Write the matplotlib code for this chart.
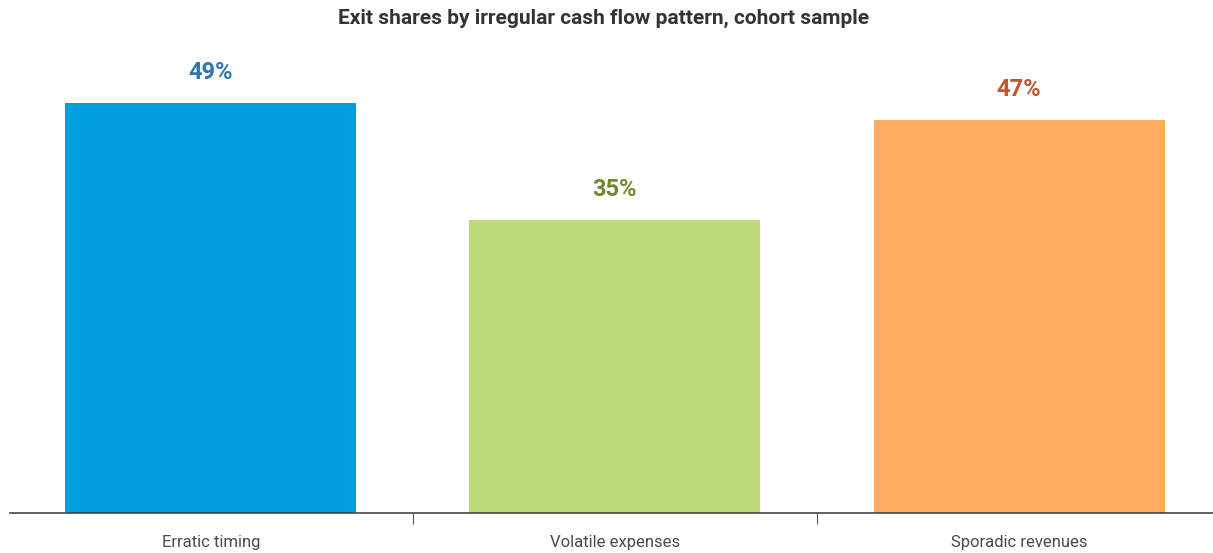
import matplotlib
matplotlib.use('Agg')
import matplotlib.pyplot as plt
from matplotlib.ticker import FixedLocator

# chart data
categories = ['Erratic timing', 'Volatile expenses', 'Sporadic revenues']
shares = [49, 35, 47]
labels = ['49%', '35%', '47%']
bar_colors = ['#009FE0', '#BDDA7A', '#FFAD5F']
text_colors = ['#2C77B3', '#6E8A2B', '#C1552B']

plt.rcParams['font.family'] = ['Roboto', 'DejaVu Sans']

fig = plt.figure(figsize=(12.13, 5.53), dpi=100)
ax = fig.add_axes([10 / 1213, 40 / 553, 1203 / 1213, 473 / 553])

x = list(range(len(categories)))
ax.bar(x, shares, width=0.72, color=bar_colors, zorder=2)
for xi, v, lab, c in zip(x, shares, labels, text_colors):
    ax.text(xi, v + 3.6, lab, ha='center', va='center', fontsize=17,
            fontweight='bold', color=c)

ax.set_xlim(-0.497, 2.48)
ax.set_ylim(0, 56.5)
ax.set_yticks([])
ax.set_xticks(x)
ax.set_xticklabels(categories, fontsize=12, color='#4a4a4a', fontweight='normal')
ax.tick_params(axis='x', which='major', length=0, pad=16)
ax.xaxis.set_minor_locator(FixedLocator([0.5, 1.5]))
ax.tick_params(axis='x', which='minor', length=8, width=0.8, color='#555555')
for side in ['top', 'left', 'right']:
    ax.spines[side].set_visible(False)
ax.spines['bottom'].set_color('#444444')
ax.spines['bottom'].set_linewidth(1.2)

fig.text(604 / 1213, 1 - 18 / 553, 'Exit shares by irregular cash flow pattern, cohort sample',
         ha='center', va='center', fontsize=15, fontweight='bold', color='#333333')

fig.savefig('out.png', dpi=100)
